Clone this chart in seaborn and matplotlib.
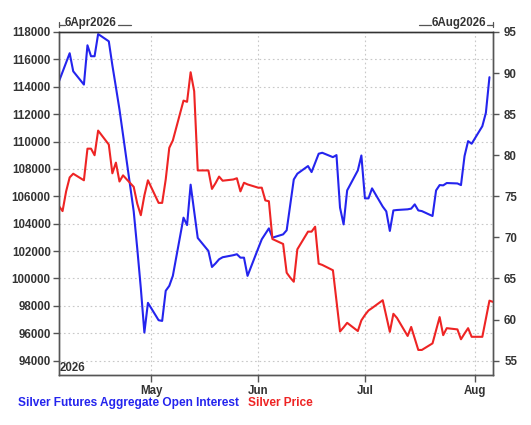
import numpy as np
import pandas as pd
import matplotlib
matplotlib.use("Agg")
import matplotlib.pyplot as plt
from matplotlib.lines import Line2D
import seaborn as sns

# open interest (contracts), business days
oi_dates = ['2026-04-06', '2026-04-09', '2026-04-10', '2026-04-13', '2026-04-14', '2026-04-15',
            '2026-04-16', '2026-04-17', '2026-04-20', '2026-04-21', '2026-04-22', '2026-04-23',
            '2026-04-24', '2026-04-27', '2026-04-28', '2026-04-29', '2026-04-30', '2026-05-01',
            '2026-05-04', '2026-05-05', '2026-05-06', '2026-05-07', '2026-05-08', '2026-05-11',
            '2026-05-12', '2026-05-13', '2026-05-14', '2026-05-15', '2026-05-18', '2026-05-19',
            '2026-05-20', '2026-05-21', '2026-05-22', '2026-05-25', '2026-05-26', '2026-05-27',
            '2026-05-28', '2026-05-29', '2026-06-01', '2026-06-02', '2026-06-03', '2026-06-04',
            '2026-06-05', '2026-06-08', '2026-06-09', '2026-06-11', '2026-06-12', '2026-06-15',
            '2026-06-16', '2026-06-18', '2026-06-19', '2026-06-22', '2026-06-23', '2026-06-24',
            '2026-06-25', '2026-06-26', '2026-06-29', '2026-06-30', '2026-07-01', '2026-07-02',
            '2026-07-03', '2026-07-06', '2026-07-07', '2026-07-08', '2026-07-09', '2026-07-10',
            '2026-07-13', '2026-07-14', '2026-07-15', '2026-07-16', '2026-07-17', '2026-07-20',
            '2026-07-21', '2026-07-22', '2026-07-23', '2026-07-24', '2026-07-27', '2026-07-28',
            '2026-07-29', '2026-07-30', '2026-07-31', '2026-08-03', '2026-08-04', '2026-08-05']
oi_values = [114400, 116450, 115130, 114160, 117030, 116230,
             116230, 117850, 117320, 115570, 113970, 112340,
             110490, 104900, 102180, 99290, 96050, 98220,
             96950, 96900, 99100, 99460, 100190, 104440,
             103900, 106850, 104900, 102960, 102010, 100840,
             101100, 101400, 101550, 101700, 101770, 101520,
             101520, 100190, 102200, 102860, 103260, 103660,
             102980, 103220, 103520, 107230, 107650, 108210,
             107770, 109110, 109180, 108860, 109010, 105170,
             103950, 106430, 107890, 108980, 105850, 105850,
             106580, 105250, 104900, 103470, 104970, 105000,
             105050, 105100, 105410, 104970, 104920, 104560,
             106430, 106820, 106800, 106970, 106940, 106820,
             108940, 110030, 109840, 111120, 112100, 114700]

# silver price (USD/oz)
price_dates = ['2026-04-06', '2026-04-07', '2026-04-08', '2026-04-09', '2026-04-10', '2026-04-13',
               '2026-04-14', '2026-04-15', '2026-04-16', '2026-04-17', '2026-04-20', '2026-04-21',
               '2026-04-22', '2026-04-23', '2026-04-24', '2026-04-27', '2026-04-28', '2026-04-29',
               '2026-04-30', '2026-05-01', '2026-05-04', '2026-05-05', '2026-05-06', '2026-05-07',
               '2026-05-08', '2026-05-11', '2026-05-12', '2026-05-13', '2026-05-14', '2026-05-15',
               '2026-05-18', '2026-05-19', '2026-05-20', '2026-05-21', '2026-05-22', '2026-05-25',
               '2026-05-26', '2026-05-27', '2026-05-28', '2026-05-29', '2026-06-01', '2026-06-02',
               '2026-06-03', '2026-06-04', '2026-06-05', '2026-06-08', '2026-06-09', '2026-06-10',
               '2026-06-11', '2026-06-12', '2026-06-15', '2026-06-16', '2026-06-17', '2026-06-18',
               '2026-06-19', '2026-06-22', '2026-06-24', '2026-06-25', '2026-06-26', '2026-06-29',
               '2026-06-30', '2026-07-01', '2026-07-02', '2026-07-03', '2026-07-06', '2026-07-08',
               '2026-07-09', '2026-07-10', '2026-07-13', '2026-07-14', '2026-07-15', '2026-07-16',
               '2026-07-17', '2026-07-20', '2026-07-21', '2026-07-22', '2026-07-23', '2026-07-24',
               '2026-07-27', '2026-07-28', '2026-07-29', '2026-07-30', '2026-07-31', '2026-08-03',
               '2026-08-04', '2026-08-05', '2026-08-06']
price_values = [73.8, 73.2, 75.6, 77.3, 77.75, 76.95,
                80.8, 80.8, 80.0, 83.0, 81.3, 77.8,
                79.1, 76.8, 77.55, 76.15, 74.1, 72.7,
                75.1, 76.95, 74.2, 74.2, 77.05, 80.9,
                81.8, 86.65, 86.5, 90.1, 87.8, 78.15,
                78.15, 75.9, 76.6, 77.4, 76.9, 77.05,
                77.2, 75.6, 76.65, 76.45, 76.05, 76.05,
                74.5, 74.4, 69.8, 69.2, 65.7, 65.1,
                64.6, 68.55, 70.7, 70.7, 71.3, 66.8,
                66.65, 66.0, 58.55, 59.05, 59.6, 58.6,
                59.9, 60.55, 61.1, 61.4, 62.35, 58.5,
                60.7, 60.2, 58.0, 59.1, 57.7, 56.3,
                56.3, 57.1, 58.7, 60.3, 58.1, 58.95,
                58.8, 57.6, 58.3, 58.95, 57.9, 57.9,
                60.1, 62.3, 62.15]

oi_ticks = list(range(94000, 118001, 2000))
price_ticks = [55, 60, 65, 70, 75, 80, 85, 90, 95]
month_pos = ['2026-05-02', '2026-06-01', '2026-07-01', '2026-08-01']
month_labels = ['May', 'Jun', 'Jul', 'Aug']

blue = '#2424ee'
red = '#ee2424'
dark = '#333333'
frame = '#555555'

sns.set_style('white')
plt.rcParams['font.family'] = ['Liberation Sans', 'DejaVu Sans']

W, H = 531, 425
fig = plt.figure(figsize=(W / 100, H / 100), dpi=100)
ax = fig.add_axes([59 / W, 1 - 375 / H, (493 - 59) / W, (375 - 32) / H])
ax2 = ax.twinx()

oi = pd.DataFrame({'date': pd.to_datetime(oi_dates), 'oi': oi_values})
px = pd.DataFrame({'date': pd.to_datetime(price_dates), 'price': price_values})
sns.lineplot(data=oi, x='date', y='oi', ax=ax, color=blue, linewidth=1.5)
sns.lineplot(data=px, x='date', y='price', ax=ax2, color=red, linewidth=1.5)

ax.set_xlim(pd.Timestamp('2026-04-06'), pd.Timestamp('2026-08-06'))
ax.set_ylim(92950, 118000)
ax2.set_ylim(53.25, 95)

fs = 8.3
ax.set_xticks(pd.to_datetime(month_pos))
ax.set_xticklabels(month_labels, fontsize=fs, fontweight='bold', color=dark)
ax.set_yticks(oi_ticks)
ax.set_yticklabels([str(t) for t in oi_ticks], fontsize=fs, fontweight='bold', color=dark)
ax2.set_yticks(price_ticks)
ax2.set_yticklabels([str(t) for t in price_ticks], fontsize=fs, fontweight='bold', color=dark)
ax.set_xlabel('')
ax.set_ylabel('')
ax2.set_ylabel('')

ax.grid(True, linestyle=(0, (1.5, 2.5)), color='#c8c8c8', linewidth=0.8)
ax.tick_params(axis='y', direction='out', length=4, width=1, color=frame, pad=2, left=True)
ax.tick_params(axis='x', direction='out', length=5, width=1, color=frame, pad=2.5, bottom=True)
ax2.tick_params(axis='y', direction='out', length=4, width=1, color=frame, pad=4, right=True)
for a in (ax, ax2):
    for s in a.spines.values():
        s.set_color(frame)
        s.set_linewidth(1)
ax2.spines['top'].set_color('#333333')


def fx(x):
    return x / W


def fy(y):
    return 1 - y / H


bold = dict(fontsize=fs, fontweight='bold', color=dark, va='center')
fig.text(fx(65), fy(23.3), '6Apr2026', ha='left', **bold)
fig.text(fx(486.5), fy(23.3), '6Aug2026', ha='right', **bold)
fig.text(fx(60), fy(368.3), '2026', ha='left', **bold)
for xs, ys in [([59, 59], [21.5, 27]), ([59, 65], [25, 25]), ([118, 131], [25, 25]),
               ([419, 431], [25, 25]), ([487, 493], [25, 25]), ([493, 493], [21.5, 27])]:
    fig.add_artist(Line2D([fx(v) for v in xs], [fy(v) for v in ys], color='#555555', lw=0.9))

fig.text(fx(18), fy(402.7), 'Silver Futures Aggregate Open Interest', color=blue,
         fontsize=8.6, fontweight='bold', ha='left', va='center')
fig.text(fx(248), fy(402.7), 'Silver Price', color=red,
         fontsize=8.6, fontweight='bold', ha='left', va='center')

fig.savefig('out.png', dpi=100)
